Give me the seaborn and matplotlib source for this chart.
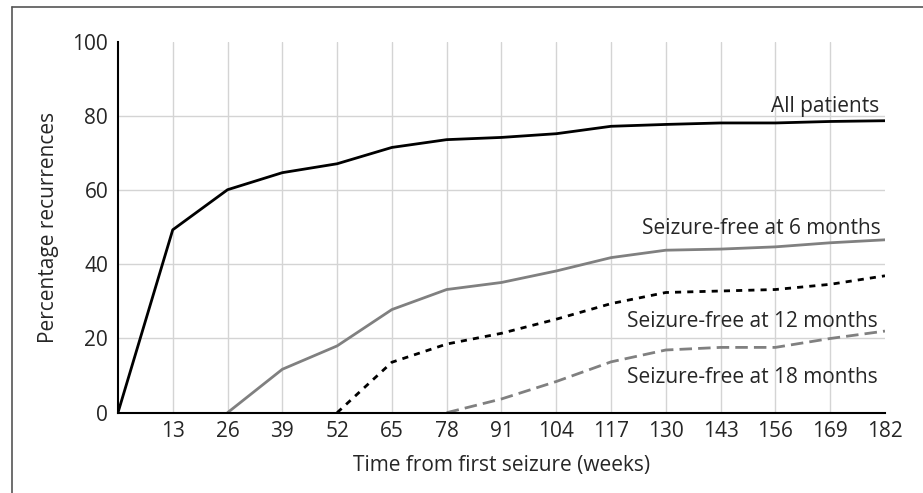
import matplotlib
matplotlib.use('Agg')
import matplotlib.pyplot as plt
import seaborn as sns
from matplotlib.lines import Line2D

# weeks from first seizure
weeks = [0, 13, 26, 39, 52, 65, 78, 91, 104, 117, 130, 143, 156, 169, 182]
tick_weeks = weeks[1:]

# percentage recurrences
all_patients = [0, 49.3, 60.1, 64.7, 67.1, 71.5, 73.6, 74.2, 75.2, 77.2, 77.7, 78.1, 78.1, 78.5, 78.7]
free_6m_weeks = weeks[2:]
free_6m = [0, 11.7, 18.0, 27.8, 33.2, 35.1, 38.2, 41.8, 43.8, 44.1, 44.7, 45.8, 46.6]
free_12m_weeks = weeks[4:]
free_12m = [0, 13.6, 18.5, 21.4, 25.2, 29.4, 32.4, 32.8, 33.2, 34.6, 36.9]
free_18m_weeks = weeks[6:]
free_18m = [0, 3.7, 8.4, 13.7, 16.9, 17.6, 17.6, 20.0, 22.0]

labels = ['All patients', 'Seizure-free at 6 months',
          'Seizure-free at 12 months', 'Seizure-free at 18 months']

sns.set_style('white')
plt.rcParams['font.family'] = ['Open Sans', 'DejaVu Sans']
fs = 15

fig = plt.figure(figsize=(9.23, 4.93), dpi=100)
ax = fig.add_axes([0.1278, 0.1629, 0.831, 0.7525])

grey = '#808080'
sns.lineplot(x=weeks, y=all_patients, ax=ax, color='black', linewidth=2.0)
sns.lineplot(x=free_6m_weeks, y=free_6m, ax=ax, color=grey, linewidth=2.0)
sns.lineplot(x=free_12m_weeks, y=free_12m, ax=ax, color='black', linewidth=2.0,
             linestyle=(0, (2.2, 2.2)))
sns.lineplot(x=free_18m_weeks, y=free_18m, ax=ax, color=grey, linewidth=2.0,
             linestyle=(0, (4.5, 2.2)))

ax.set_xlim(0, 182)
ax.set_ylim(0, 100)
ax.set_xticks(tick_weeks)
ax.set_yticks([0, 20, 40, 60, 80, 100])
ax.grid(True, color='#d4d4d4', linewidth=1.0)
ax.yaxis.get_gridlines()[-1].set_visible(False)
ax.xaxis.get_gridlines()[-1].set_visible(False)
ax.set_axisbelow(True)

for s in ['top', 'right']:
    ax.spines[s].set_visible(False)
for s in ['left', 'bottom']:
    ax.spines[s].set_color('black')
    ax.spines[s].set_linewidth(1.5)
ax.tick_params(direction='in', length=10, width=1.3, color='black',
               labelsize=fs, pad=7)
ax.tick_params(axis='x', pad=6)

ax.set_xlabel('Time from first seizure (weeks)', fontsize=fs, labelpad=9)
ax.set_ylabel('Percentage recurrences', fontsize=fs, labelpad=10)

# line labels
ax.text(180.6, 81.0, labels[0], ha='right', va='baseline', fontsize=fs)
ax.text(181.0, 48.3, labels[1], ha='right', va='baseline', fontsize=fs)
ax.text(180.4, 23.0, labels[2], ha='right', va='baseline', fontsize=fs)
ax.text(180.4, 7.9, labels[3], ha='right', va='baseline', fontsize=fs)

# frame around the figure (top and left edges visible)
fig.add_artist(Line2D([0.013, 1.0], [0.986, 0.986], transform=fig.transFigure,
                      color='#555555', linewidth=1.2))
fig.add_artist(Line2D([0.013, 0.013], [0.0, 0.986], transform=fig.transFigure,
                      color='#555555', linewidth=1.2))

fig.savefig('out.png', dpi=100)
